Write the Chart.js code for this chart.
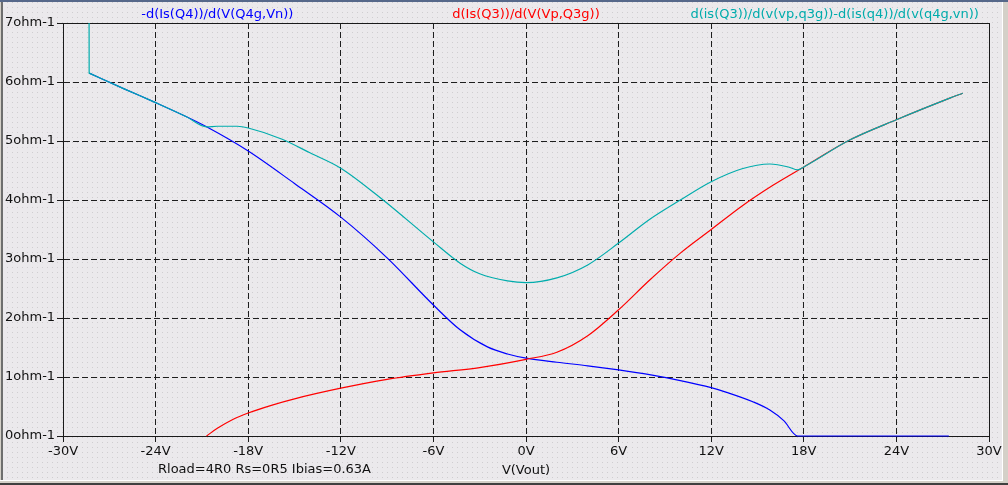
<!DOCTYPE html>
<html>
<head>
<meta charset="utf-8">
<script src="https://cdn.jsdelivr.net/npm/chart.js@4/dist/chart.umd.min.js"></script>
<style>
  html, body { margin: 0; padding: 0; background: #d4d0c8; }
  #wrap {
    position: relative; width: 1008px; height: 485px; overflow: hidden;
    background-color: #ebe9ec;
    background-image: radial-gradient(circle, #cfcdd0 0.7px, transparent 0.9px);
    background-size: 5px 5px;
  }
  #plot { position: absolute; left: 0; top: 0; }
  .edge { position: absolute; pointer-events: none; }
</style>
</head>
<body>
<div id="wrap">
  <canvas id="plot" width="1008" height="485"></canvas>
  <div class="edge" style="left:0;top:0;width:1008px;height:2px;background:#56688a"></div>
  <div class="edge" style="left:0;top:2px;width:1px;height:483px;background:#d4d0c8"></div>
  <div class="edge" style="left:1px;top:2px;width:2px;height:478px;background:#6e6e6e"></div>
  <div class="edge" style="left:1002px;top:2px;width:1px;height:479px;background:#ffffff"></div>
  <div class="edge" style="left:1003px;top:2px;width:5px;height:483px;background:#d4d0c8"></div>
  <div class="edge" style="left:0;top:480px;width:1003px;height:1px;background:#ffffff"></div>
  <div class="edge" style="left:0;top:481px;width:1008px;height:2px;background:#d4d0c8"></div>
  <div class="edge" style="left:0;top:483px;width:1008px;height:2px;background:#404040"></div>
</div>
<script>
// axis ticks
const xTickValues = [-30, -24, -18, -12, -6, 0, 6, 12, 18, 24, 30];
const yTickValues = [0, 1, 2, 3, 4, 5, 6, 7];

// -d(Is(Q4))/d(V(Q4g,Vn))
const q4Volts = [-28.3, -26, -24, -22, -20.7, -18, -15, -12, -9, -6, -4.27, -2.5, -1.2, 0, 2, 4, 6, 8, 10, 12, 13, 14.7, 15.8, 16.7, 17.6, 27.4];
const q4Vals  = [6.15, 5.88, 5.65, 5.41, 5.24, 4.83, 4.28, 3.71, 3.02, 2.22, 1.8, 1.51, 1.39, 1.32, 1.25, 1.19, 1.12, 1.04, 0.94, 0.82, 0.74, 0.58, 0.44, 0.26, 0.0, 0.0];

// d(Is(Q3))/d(V(Vp,Q3g))
const q3Volts = [-20.7, -20, -19, -18, -16.5, -15, -12, -9, -6, -3, 0, 2, 4, 6, 8, 10, 12, 14, 16, 18, 21, 24, 27.5, 28.3];
const q3Vals  = [0.0, 0.13, 0.28, 0.39, 0.52, 0.63, 0.81, 0.96, 1.07, 1.16, 1.3, 1.42, 1.7, 2.14, 2.64, 3.1, 3.5, 3.9, 4.25, 4.56, 5.02, 5.36, 5.73, 5.81];

// d(is(Q3))/d(v(vp,q3g))-d(is(q4))/d(v(q4g,vn))
// the start-up spike is a separate piece (null gap) so it does not bend the curve
const sumVolts = [-28.31, -28.305, -28.302, -28.3, -26, -24, -22, -20.7, -20, -18.7, -18, -15.8, -14, -12, -9.26, -6, -4.27, -3, -1.2, 0, 2, 4, 6, 8, 10, 12, 14, 15.8, 17, 17.6, 18, 21, 24, 27.5, 28.3];
const sumVals  = [7.0, 6.14, null, 6.15, 5.88, 5.65, 5.41, 5.24, 5.25, 5.25, 5.22, 5.03, 4.8, 4.54, 4.0, 3.29, 2.93, 2.75, 2.63, 2.6, 2.68, 2.9, 3.27, 3.67, 4.0, 4.31, 4.53, 4.61, 4.56, 4.51, 4.56, 5.02, 5.36, 5.73, 5.81];

const noteText = "Rload=4R0 Rs=0R5 Ibias=0.63A";

function toPoints(xs, ys) {
  return xs.map((x, i) => ({ x: x, y: ys[i] }));
}

Chart.defaults.font.family = "'DejaVu Sans', sans-serif";
Chart.defaults.font.size = 13;
Chart.defaults.color = "#111";

// frame round the plot area (under the traces), trace names on top, bias note at the bottom
const ltspiceDecor = {
  id: "ltspiceDecor",
  beforeDatasetsDraw(chart) {
    const { ctx, chartArea: a } = chart;
    ctx.save();
    ctx.strokeStyle = "#1a1a1a";
    ctx.lineWidth = 1;
    ctx.strokeRect(a.left + 0.5, a.top + 0.5, a.right - a.left, a.bottom - a.top);
    ctx.restore();
  },
  afterDraw(chart) {
    const { ctx, chartArea: a } = chart;
    ctx.save();
    ctx.font = "13px 'DejaVu Sans', sans-serif";
    ctx.textBaseline = "middle";
    ctx.textAlign = "center";
    const w = a.right - a.left;
    chart.data.datasets.forEach((ds, i) => {
      ctx.fillStyle = ds.borderColor;
      ctx.fillText(ds.label, a.left + w * (i + 0.5) / 3, 15);
    });

    ctx.textAlign = "left";
    ctx.fillStyle = "#111";
    ctx.fillText(noteText, 158, 470);
    ctx.restore();
  },
};

new Chart(document.getElementById("plot"), {
  type: "line",
  data: {
    datasets: [
      {
        label: "-d(Is(Q4))/d(V(Q4g,Vn))",
        data: toPoints(q4Volts, q4Vals),
        borderColor: "#0000ff",
        clip: 2,
        order: 2,
      },
      {
        label: "d(Is(Q3))/d(V(Vp,Q3g))",
        data: toPoints(q3Volts, q3Vals),
        borderColor: "#ff0000",
        clip: 2,
        order: 1,
      },
      {
        label: "d(is(Q3))/d(v(vp,q3g))-d(is(q4))/d(v(q4g,vn))",
        data: toPoints(sumVolts, sumVals),
        borderColor: "#00acac",
        spanGaps: false,
        order: 0,
      },
    ],
  },
  options: {
    responsive: false,
    animation: false,
    parsing: false,
    layout: { padding: { left: 5, right: 19, top: 23, bottom: 0 } },
    elements: {
      point: { radius: 0 },
      line: { borderWidth: 1.2, cubicInterpolationMode: "monotone" },
    },
    plugins: { legend: { display: false }, tooltip: { enabled: false } },
    scales: {
      x: {
        type: "linear",
        min: -30,
        max: 30,
        afterBuildTicks: (s) => { s.ticks = xTickValues.map((v) => ({ value: v })); },
        afterFit: (s) => { s.height = 49; },
        ticks: { padding: 2, color: "#111", callback: (v) => v + "V", maxRotation: 0 },
        grid: { color: "#1e1e1e", tickLength: 6, tickColor: "#1a1a1a", tickBorderDash: [] },
        border: { color: "#1a1a1a", dash: [6, 3] },
        title: { display: true, text: "V(Vout)", color: "#111", padding: { top: 0, bottom: 7 } },
      },
      y: {
        type: "linear",
        min: 0,
        max: 7,
        afterBuildTicks: (s) => { s.ticks = yTickValues.map((v) => ({ value: v })); },
        afterFit: (s) => { s.width = 58; },
        ticks: { crossAlign: "far", color: "#111", callback: (v) => v + "ohm-1" },
        grid: { color: "#1e1e1e", tickLength: 6, tickColor: "#1a1a1a", tickBorderDash: [] },
        border: { color: "#1a1a1a", dash: [6, 3] },
      },
    },
  },
  plugins: [ltspiceDecor],
});
</script>
</body>
</html>
